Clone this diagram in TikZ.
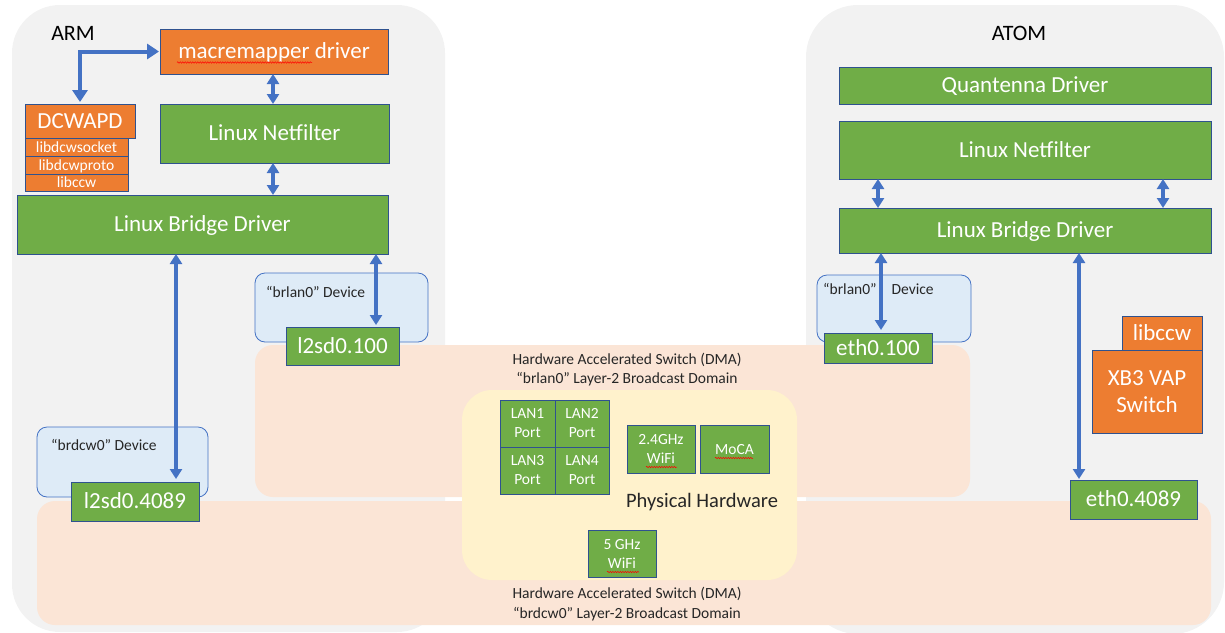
\documentclass[tikz,border=0pt]{standalone}
\usepackage{fontspec}
\setmainfont{Carlito}
\usetikzlibrary{arrows.meta,decorations.pathmorphing}
\definecolor{grn}{HTML}{70AD47}
\definecolor{org}{HTML}{ED7D31}
\definecolor{bord}{HTML}{2F528F}
\definecolor{arrc}{HTML}{4472C4}
\definecolor{panel}{HTML}{F2F2F2}
\definecolor{peach}{HTML}{FBE5D6}
\definecolor{yel}{HTML}{FFF2CC}
\definecolor{dev}{HTML}{DEEBF7}
\definecolor{txt}{HTML}{262626}
\newcommand\mkbox[7]{\node[#6, minimum width={#4-#2}, minimum height={#5-#3}] (#1) at ({(#2+#4)/2},{(#3+#5)/2}) {#7};}
\tikzset{
  bx/.style={draw=bord, line width=0.9pt, inner sep=1pt, outer sep=0pt, text=white, align=center},
  bigf/.style={font=\fontsize{23}{27}\selectfont},
  smallf/.style={font=\fontsize{15.5}{19}\selectfont},
  gbig/.style={bx, fill=grn, bigf, text height=14.2pt, text depth=0pt},
  gsmall/.style={bx, fill=grn, smallf, text height=10pt, text depth=0pt},
  gsmallml/.style={bx, fill=grn, smallf},
  obig/.style={bx, fill=org, bigf, text height=14.2pt, text depth=0pt},
  obigml/.style={bx, fill=org, bigf},
  osmall/.style={bx, fill=org, smallf, text height=10pt, text depth=0pt},
  devbox/.style={draw=arrc, fill=dev, line width=0.8pt, rounded corners=10pt, inner sep=0pt, outer sep=0pt},
  lbl/.style={text=txt, inner sep=0pt, smallf, text height=10pt, text depth=0pt, align=center},
  title/.style={text=black, inner sep=0pt, font=\fontsize{22}{26}\selectfont, text height=14.2pt, text depth=0pt},
  arr/.style={draw=arrc, line width=3.2pt, {Triangle[width=12pt,length=10pt]}-{Triangle[width=12pt,length=10pt]}},
  barr/.style={draw=arrc, line width=4pt, {Triangle[width=15pt,length=12pt]}-{Triangle[width=15pt,length=12pt]}},
  squig/.style={draw=red, line width=0.5pt, decorate, decoration={snake, amplitude=0.7pt, segment length=2.5pt}}
}
\begin{document}
\begin{tikzpicture}[x=1pt,y=-1pt]
\useasboundingbox (0,0) rectangle (1225,632);
\clip (0,0) rectangle (1225,632);
% panels
\fill[panel, rounded corners=48pt] (12,5) rectangle (445,632);
\fill[panel, rounded corners=52pt] (806,5) rectangle (1224,634);
% broadcast domains
\fill[peach, rounded corners=18pt] (255,345) rectangle (970,497);
\fill[peach, rounded corners=18pt] (37,501) rectangle (1211,625);
\fill[yel, rounded corners=30pt] (462,390) rectangle (797,580);
% titles
\node[title] (arm) at (73,33) {ARM};
\node[title] (atom) at (1019,33) {ATOM};
% device boxes
\mkbox{devA}{255}{273}{428}{342}{devbox}{}
\mkbox{devB}{37}{427}{208}{497}{devbox}{}
\mkbox{devC}{817}{275}{971}{342}{devbox}{}
\node[lbl, anchor=west] (devAl) at (266,292) {“brlan0” Device};
\node[lbl, anchor=west] (devBl) at (51,445.5) {“brdcw0” Device};
\node[lbl, anchor=west] (devCl) at (823,289.5) {“brlan0”\hspace*{15pt}Device};
% domain labels
\node[lbl] (hw1) at (627,359) {Hardware Accelerated Switch (DMA)};
\node[lbl] (hw2) at (627,378) {“brlan0” Layer-2 Broadcast Domain};
\node[lbl] (hw3) at (627,593) {Hardware Accelerated Switch (DMA)};
\node[lbl] (hw4) at (627,613) {“brdcw0” Layer-2 Broadcast Domain};
\node[text=txt, inner sep=0pt, font=\fontsize{20.5}{24}\selectfont, text height=13.2pt, text depth=0pt] (phys) at (702,501) {Physical Hardware};
% ARM boxes
\mkbox{mac}{160}{29}{388}{74}{obig}{macremapper driver}
\mkbox{nfA}{160}{104}{389}{163}{gbig}{Linux Netfilter}
\mkbox{brA}{17}{195}{388}{254}{gbig}{Linux Bridge Driver}
\mkbox{dc}{25}{104}{135}{138}{obig}{DCWAPD}
\mkbox{ls}{25}{138}{128}{156}{osmall}{libdcwsocket}
\mkbox{lp}{25}{156}{128}{174}{osmall}{libdcwproto}
\mkbox{lc}{25}{174}{128}{191}{osmall}{libccw}
\mkbox{l100}{286}{327}{399}{365}{gbig}{l2sd0.100}
\mkbox{l4089}{71}{482}{199}{521}{gbig}{l2sd0.4089}
% ATOM boxes
\mkbox{qd}{839}{67}{1211}{104}{gbig}{Quantenna Driver}
\mkbox{nfB}{839}{121}{1211}{179}{gbig}{Linux Netfilter}
\mkbox{brB}{839}{208}{1211}{253}{gbig}{Linux Bridge Driver}
\mkbox{e100}{824}{333}{932}{363}{gbig}{eth0.100}
\mkbox{e4089}{1070}{480}{1197}{519}{gbig}{eth0.4089}
\mkbox{lcB}{1122}{316}{1202}{350}{obig}{libccw}
\mkbox{xb3}{1092}{350}{1202}{433}{obigml}{XB3 VAP\\Switch}
% physical hardware
\mkbox{lan1}{500}{400}{555}{447}{gsmallml}{LAN1\\Port}
\mkbox{lan2}{555}{400}{609}{447}{gsmallml}{LAN2\\Port}
\mkbox{lan3}{500}{447}{555}{494}{gsmallml}{LAN3\\Port}
\mkbox{lan4}{555}{447}{609}{494}{gsmallml}{LAN4\\Port}
\mkbox{w24}{627}{425}{695}{473}{gsmallml}{2.4GHz\\WiFi}
\mkbox{moca}{700}{425}{769}{473}{gsmall}{MoCA}
\mkbox{w5}{588}{530}{656}{577}{gsmallml}{5 GHz\\WiFi}
% spell-check marks
\draw[squig] (177,62.5) -- (312,62.5);
\draw[squig] (646,467) -- (677,467);
\draw[squig] (715,458) -- (753,458);
\draw[squig] (607,572) -- (639,572);
% connectors
\draw[barr, shorten <=2pt, shorten >=1pt] (dc.north) |- (mac.west);
\draw[arr] (273,0 |- mac.south) -- (273,0 |- nfA.north);
\draw[arr] (273,0 |- nfA.south) -- (273,0 |- brA.north);
\draw[arr, shorten >=3pt] (176,0 |- brA.south) -- (176,0 |- l4089.north);
\draw[arr, shorten >=2pt] (376,0 |- brA.south) -- (376,0 |- l100.north);
\draw[arr] (878,0 |- nfB.south) -- (878,0 |- brB.north);
\draw[arr] (1163,0 |- nfB.south) -- (1163,0 |- brB.north);
\draw[arr, shorten >=3pt] (881,0 |- brB.south) -- (881,0 |- e100.north);
\draw[arr, shorten >=1pt] (1079,0 |- brB.south) -- (1079,0 |- e4089.north);
\end{tikzpicture}
\end{document}
